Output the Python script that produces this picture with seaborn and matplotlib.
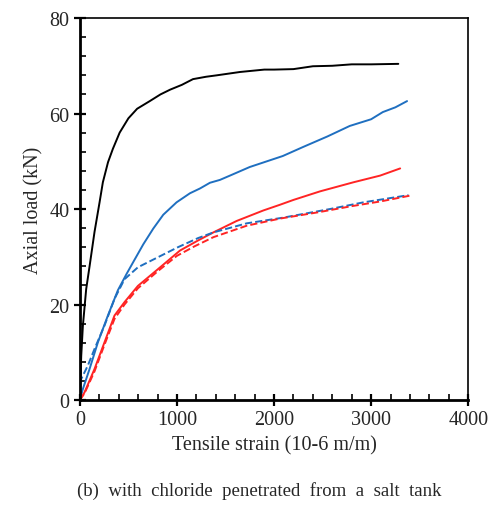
import numpy as np
import pandas as pd
import matplotlib
matplotlib.use("Agg")
import matplotlib.pyplot as plt
import seaborn as sns
from matplotlib.ticker import MultipleLocator

# ---- data ----
black_strain = [0, 14, 31, 65, 100, 151, 203, 237, 290, 340, 410, 500, 590, 720, 830, 930, 1050,
                1165, 1300, 1410, 1650, 1900, 2000, 2200, 2400, 2600, 2800, 3000, 3280]
black_load = [0, 9.2, 15.5, 23.2, 28, 35.2, 41.4, 45.6, 49.8, 52.6, 56, 59, 61, 62.6, 64, 65, 66,
              67.2, 67.7, 68, 68.7, 69.2, 69.2, 69.3, 69.9, 70.0, 70.3, 70.3, 70.4]

blue_strain = [0, 31, 100, 186, 289, 392, 481, 550, 653, 756, 859, 996, 1134, 1237, 1340, 1443,
               1546, 1750, 2090, 2300, 2550, 2780, 3000, 3120, 3250, 3370]
blue_load = [0, 2.3, 6.5, 12.1, 17.7, 23.0, 26.4, 28.9, 32.6, 35.9, 38.8, 41.4, 43.3, 44.3, 45.5,
             46.1, 47.0, 48.8, 51.1, 53, 55.2, 57.4, 58.8, 60.3, 61.3, 62.6]

red_strain = [0, 48, 151, 254, 357, 460, 598, 804, 1031, 1216, 1375, 1615, 1890, 2062, 2199,
              2474, 2818, 3093, 3299]
red_load = [0, 1.6, 6.5, 12.1, 17.7, 20.5, 23.9, 27.4, 31.3, 33.4, 35.1, 37.5, 39.7, 40.9, 41.9,
            43.7, 45.6, 47.0, 48.5]

blue_dash_strain = [0, 14, 82, 151, 254, 357, 460, 598, 804, 1010, 1216, 1375, 1718, 2096,
                    2577, 2921, 3385]
blue_dash_load = [3.5, 4.4, 7.2, 10.7, 15.6, 21.2, 25.3, 27.8, 29.9, 32.0, 33.9, 35.1, 37.0, 38.2,
                  40.0, 41.4, 42.9]

red_dash_strain = [0, 48, 151, 254, 357, 460, 598, 804, 1000, 1182, 1375, 1718, 2062,
                   2450, 2800, 3100, 3400]
red_dash_load = [0, 1.4, 6.0, 11.6, 17.0, 20.0, 23.4, 27.0, 30.2, 32.2, 34.1, 36.5, 38.0,
                 39.3, 40.6, 41.6, 42.8]

series = ["black", "blue", "red", "blue_dash", "red_dash"]
colors = {"black": "black", "blue": "#1f6fc0", "red": "#ff2424",
          "blue_dash": "#1f6fc0", "red_dash": "#ff2424"}

frames = []
for name, xs, ys in [("black", black_strain, black_load), ("blue", blue_strain, blue_load),
                     ("red", red_strain, red_load), ("blue_dash", blue_dash_strain, blue_dash_load),
                     ("red_dash", red_dash_strain, red_dash_load)]:
    frames.append(pd.DataFrame({"strain": xs, "load": ys, "series": name}))
df = pd.concat(frames, ignore_index=True)

sns.set_theme(style="ticks")
plt.rcParams['font.family'] = ['Liberation Serif', 'DejaVu Serif']

fig = plt.figure(figsize=(4.96, 5.10), dpi=100)
ax = fig.add_axes([0.161, 0.2137, 0.783, 0.749])

for name in series:
    sub = df[df["series"] == name]
    sns.lineplot(data=sub, x="strain", y="load", ax=ax, color=colors[name],
                 linewidth=1.4, sort=False, estimator=None,
                 linestyle="--" if "dash" in name else "-")

ax.set_xlim(0, 4000)
ax.set_ylim(0, 80)
ax.xaxis.set_major_locator(MultipleLocator(1000))
ax.xaxis.set_minor_locator(MultipleLocator(200))
ax.yaxis.set_major_locator(MultipleLocator(20))
ax.yaxis.set_minor_locator(MultipleLocator(4))
ax.tick_params(which="major", direction="inout", length=8, width=1.6, labelsize=14.5, color="black")
ax.tick_params(which="minor", direction="in", length=4, width=1.2, color="black")
for s in ["left", "bottom"]:
    ax.spines[s].set_linewidth(2.0)
for s in ["top", "right"]:
    ax.spines[s].set_linewidth(1.2)
for s in ax.spines.values():
    s.set_color("black")

ax.set_xlabel("Tensile strain (10-6 m/m)", fontsize=14.5, labelpad=4)
ax.set_ylabel("Axial load (kN)", fontsize=14.5, labelpad=4)
ax.grid(False)

fig.text(0.522, 0.037, "(b)  with  chloride  penetrated  from  a  salt  tank",
         ha="center", va="center", fontsize=13.5)

fig.savefig("out.png", dpi=100)
